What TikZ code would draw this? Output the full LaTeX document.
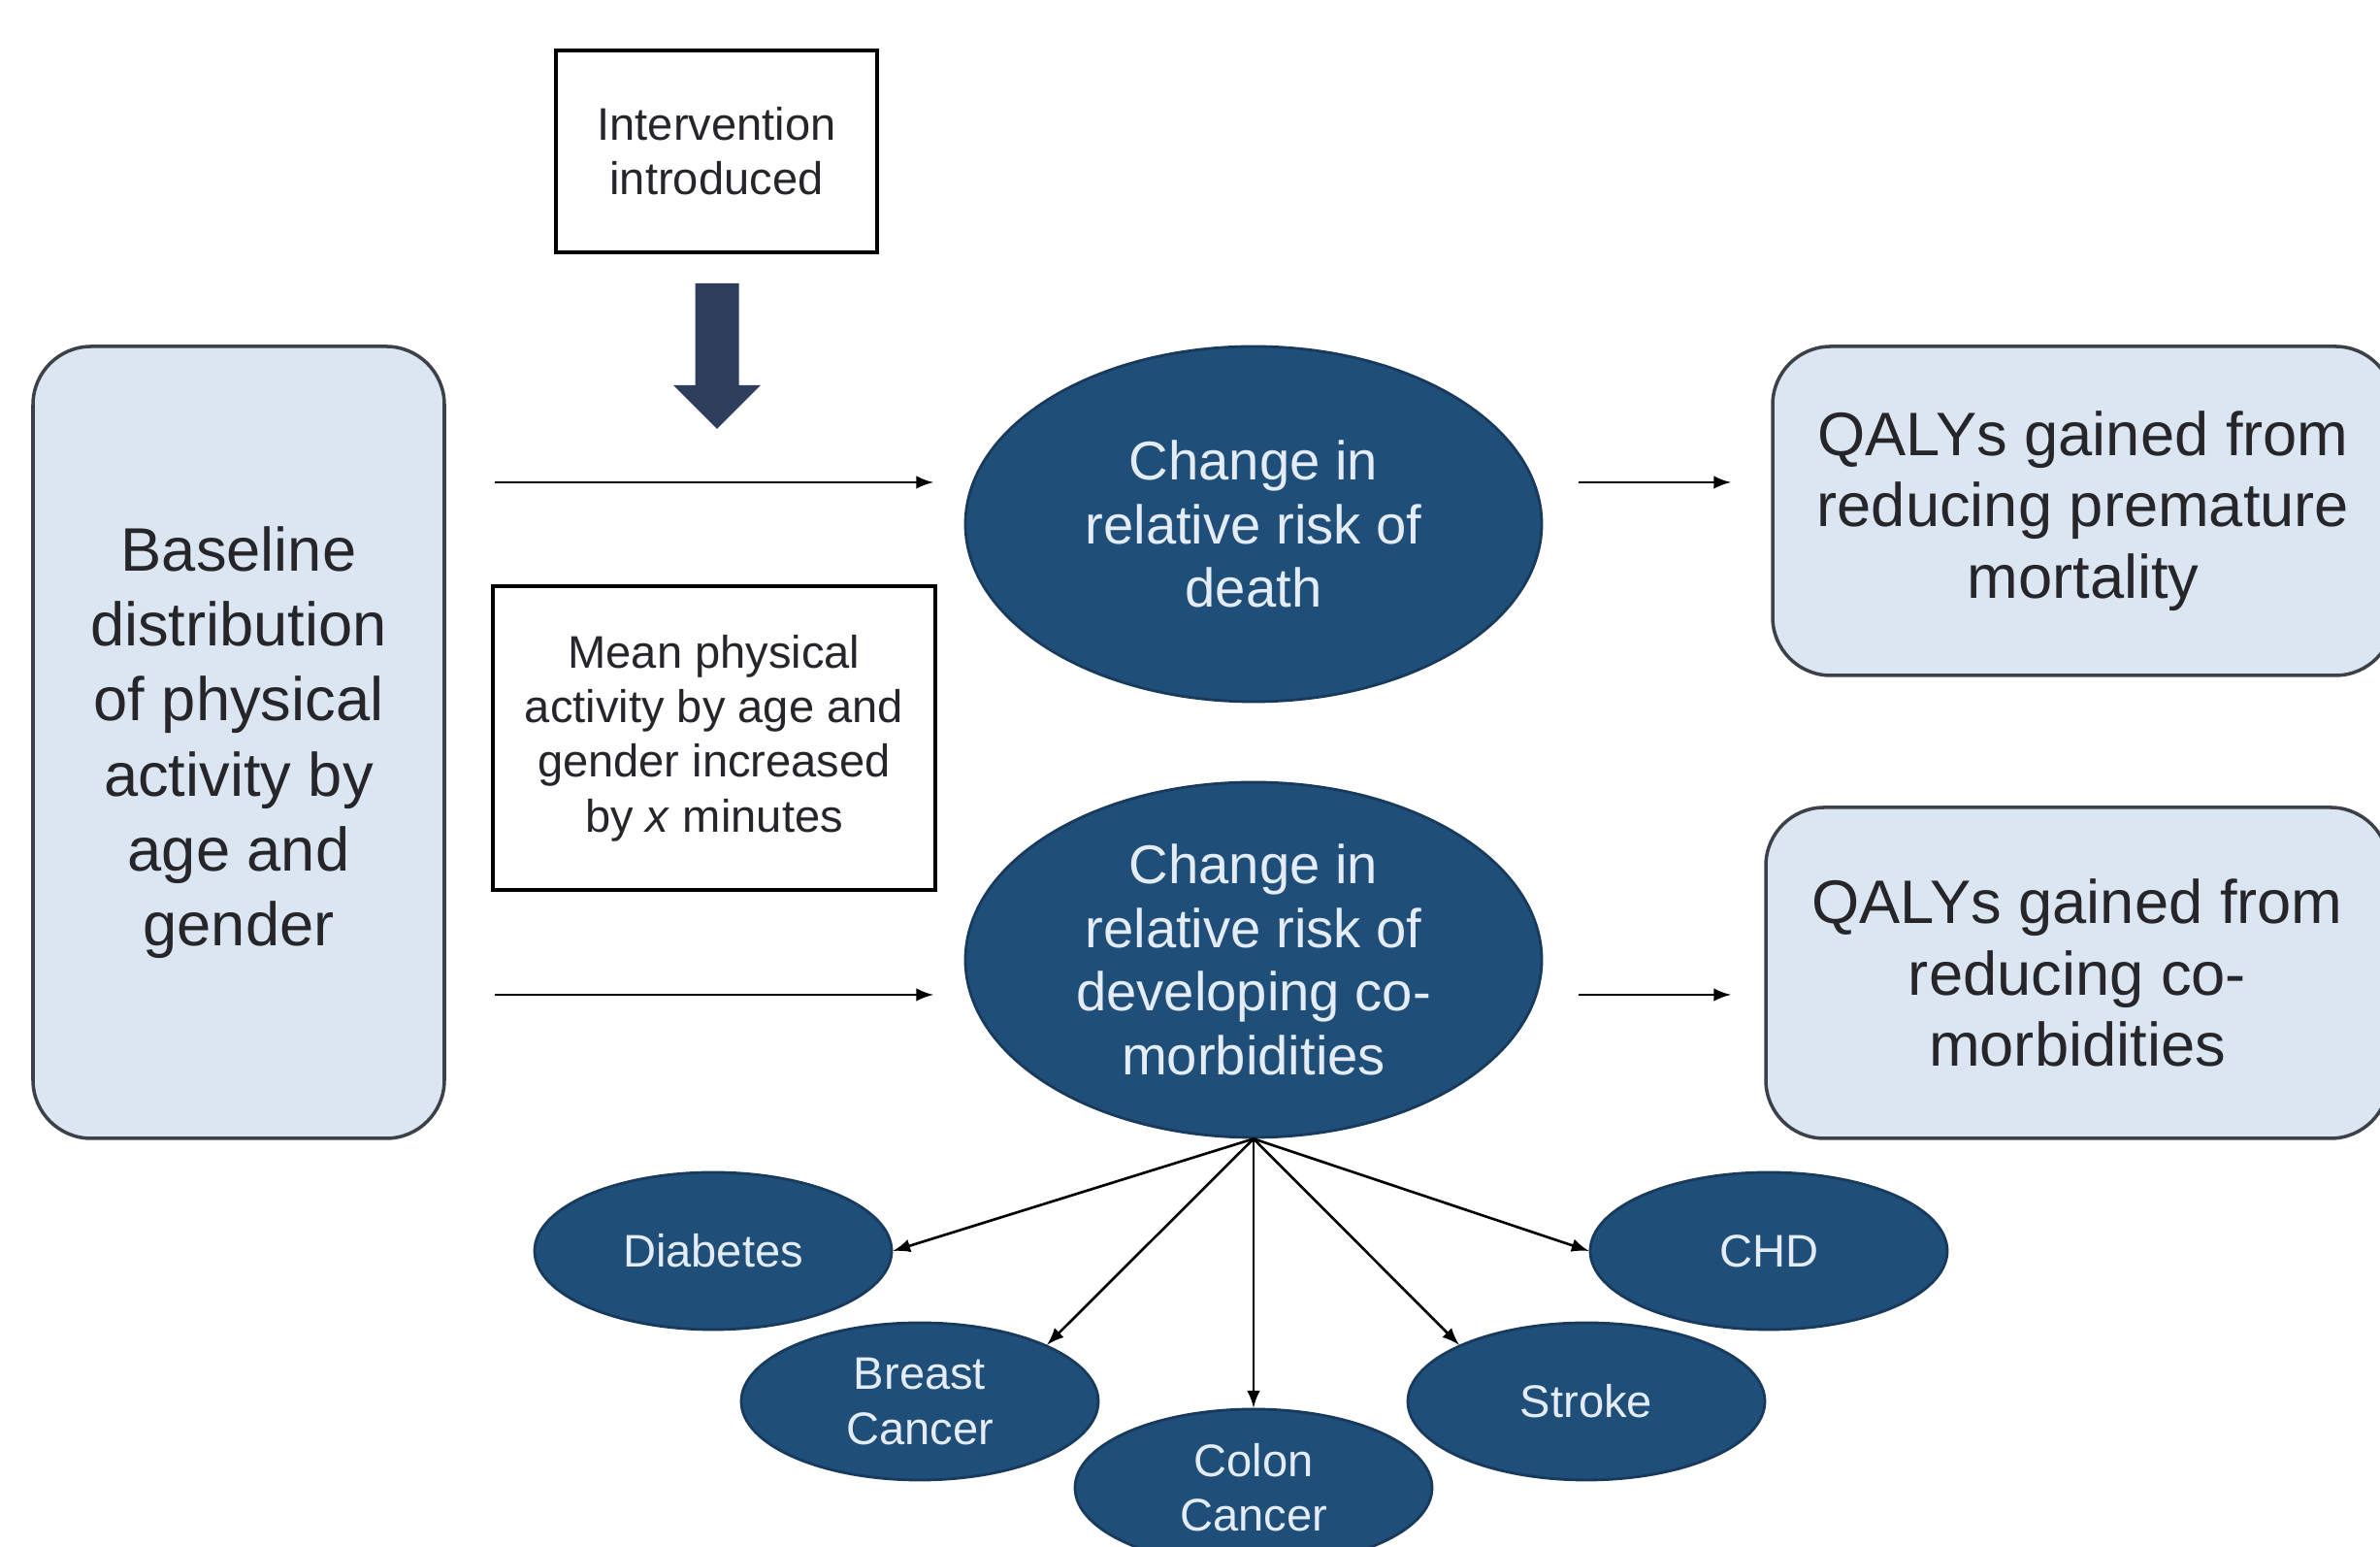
\documentclass[tikz,border=0pt]{standalone}
\usepackage{fontspec}
\setmainfont{Liberation Sans}
\usetikzlibrary{arrows,shapes.geometric}
\definecolor{riskblue}{RGB}{31,78,121}
\definecolor{riskedge}{RGB}{24,58,92}
\definecolor{qalyfill}{RGB}{220,230,242}
\definecolor{boxedge}{RGB}{60,64,72}
\definecolor{arrowblue}{RGB}{44,62,92}
\definecolor{inktext}{RGB}{38,38,42}
\definecolor{risktext}{RGB}{228,236,247}
\tikzset{
  qalybox/.style={draw=boxedge,line width=1pt,fill=qalyfill,rounded corners=0.6cm,
    align=center,text=inktext,inner sep=0pt},
  notebox/.style={draw=black,line width=1pt,fill=white,align=center,text=inktext,
    inner sep=0pt,font=\fontsize{13.4}{16}\selectfont},
  riskell/.style={ellipse,draw=riskedge,line width=0.8pt,fill=riskblue,text=risktext,
    align=center,inner sep=0pt},
  bigrisk/.style={riskell,minimum width=5.94cm,minimum height=3.66cm,
    font=\fontsize{16}{18.7}\selectfont},
  disease/.style={riskell,minimum width=3.68cm,minimum height=1.62cm,
    font=\fontsize{13.4}{16}\selectfont},
  link/.style={->,>=latex,line width=0.75pt}
}

\begin{document}
\begin{tikzpicture}
        \useasboundingbox (0,0) rectangle (24.53,15.94);
        %
        \node[qalybox,minimum width=4.24cm,minimum height=8.16cm,
          font=\fontsize{18}{22}\selectfont] (baseline) at (2.46,8.29)
          {Baseline\\distribution\\of physical\\activity by\\age and\\gender};
        %
        \node[notebox,minimum width=3.31cm,minimum height=2.08cm] (interv) at (7.385,14.38)
          {Intervention\\introduced};
        \fill[arrowblue] (7.165,13.02) -- (7.615,13.02) -- (7.615,11.97) -- (7.84,11.97)
          -- (7.39,11.52) -- (6.94,11.97) -- (7.165,11.97) -- cycle; % intervention arrow
        \node[notebox,minimum width=4.56cm,minimum height=3.13cm] (meanpa) at (7.36,8.335)
          {Mean physical\\activity by age and\\gender increased\\by \textit{x} minutes};
        %
        \node[bigrisk] (death) at (12.92,10.54) {Change in\\relative risk of\\death};
        \node[bigrisk] (comorb) at (12.92,6.05)
          {Change in\\relative risk of\\developing co-\\morbidities};
        %
        \node[qalybox,minimum width=6.40cm,minimum height=3.39cm,
          font=\fontsize{18}{21}\selectfont] (qalydeath) at (21.47,10.675)
          {QALYs gained from\\reducing premature\\mortality};
        \node[qalybox,minimum width=6.42cm,minimum height=3.41cm,
          font=\fontsize{18}{21}\selectfont] (qalycomorb) at (21.41,5.915)
          {QALYs gained from\\reducing co-\\morbidities};
        %
        \node[disease] (diabetes) at (7.35,3.05) {Diabetes};
        \node[disease] (breast) at (9.48,1.50) {Breast\\Cancer};
        \node[disease] (colon) at (12.92,0.61) {Colon\\Cancer};
        \node[disease] (stroke) at (16.35,1.50) {Stroke};
        \node[disease] (chd) at (18.23,3.05) {CHD};
        %
        \coordinate (deathfrom) at (5.10,10.97);
        \coordinate (deathto) at (9.62,10.97);
        \coordinate (comorbfrom) at (5.10,5.69);
        \coordinate (comorbto) at (9.62,5.69);
        \coordinate (qdeathfrom) at (16.27,10.97);
        \coordinate (qdeathto) at (17.84,10.97);
        \coordinate (qcomorbfrom) at (16.27,5.69);
        \coordinate (qcomorbto) at (17.84,5.69);
        \draw[link] (deathfrom) -- (deathto);
        \draw[link] (comorbfrom) -- (comorbto);
        \draw[link] (qdeathfrom) -- (qdeathto);
        \draw[link] (qcomorbfrom) -- (qcomorbto);
        %
        \foreach \d in {diabetes.east,breast.north east,colon.north,stroke.north west,chd.west}
          \draw[link] (comorb.south) -- (\d);
      \end{tikzpicture}
\end{document}
